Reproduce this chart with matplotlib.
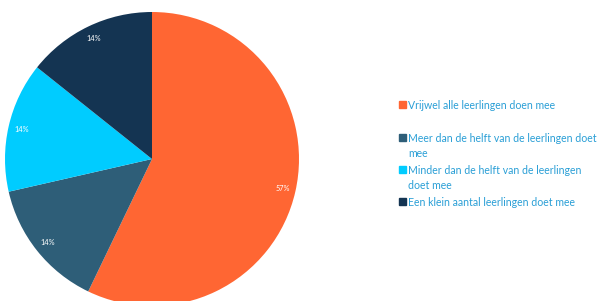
import matplotlib
matplotlib.use('Agg')
import matplotlib.pyplot as plt
from matplotlib.patches import Rectangle

categories = ['Vrijwel alle leerlingen doen mee',
              'Meer dan de helft van de leerlingen doet\nmee',
              'Minder dan de helft van de leerlingen\ndoet mee',
              'Een klein aantal leerlingen doet mee']
values = [4, 1, 1, 1]
colors = ['#FF6633', '#2E5E78', '#00CCFF', '#143452']

plt.rcParams['font.family'] = ['Lato', 'DejaVu Sans']

fig = plt.figure(figsize=(6.02, 3.01), dpi=100)
ax = fig.add_axes([5 / 602, -5 / 301, 294 / 602, 294 / 301])

wedges, texts, autotexts = ax.pie(values, colors=colors, startangle=90, counterclock=False,
                                  autopct='%1.0f%%', pctdistance=0.91, radius=1.0,
                                  wedgeprops=dict(linewidth=0))
for t in autotexts:
    t.set_color('white')
    t.set_fontsize(5.3)
ax.set_aspect('equal')
ax.set_xlim(-1, 1)
ax.set_ylim(-1, 1)

# legend drawn by hand so the markers line up with the first text line
leg_y = [104, 137, 169, 201]
for cat, col, y in zip(categories, colors, leg_y):
    fig.patches.append(Rectangle((399 / 602, 1 - (y + 4) / 301), 7 / 602, 7 / 301,
                                 transform=fig.transFigure, color=col))
    fig.text(408 / 602, 1 - (y - 4) / 301, cat, color='#2A9FD6', fontsize=7.6,
             va='top', ha='left', linespacing=1.45)

fig.savefig('out.png', dpi=100)
